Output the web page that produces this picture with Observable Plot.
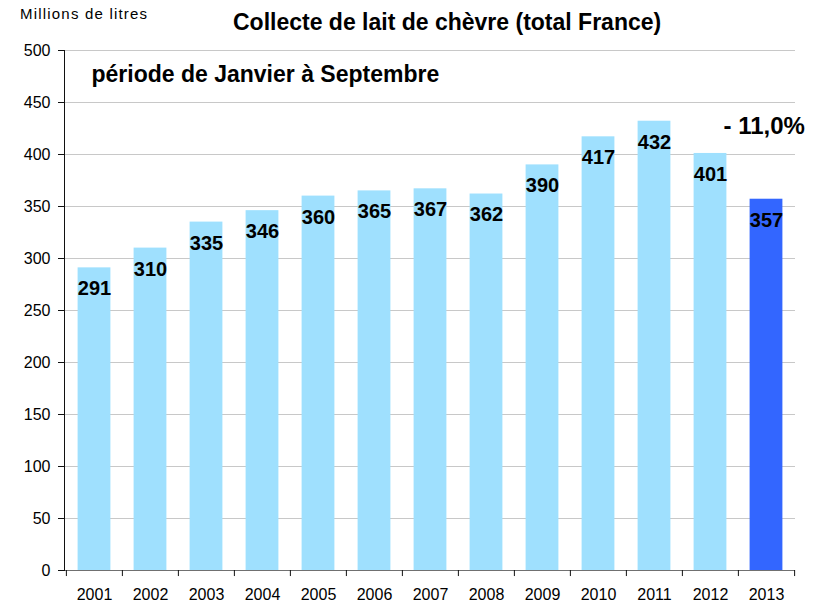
<!DOCTYPE html>
<html>
<head>
<meta charset="utf-8">
<script src="https://cdn.jsdelivr.net/npm/d3@7"></script>
<script src="https://cdn.jsdelivr.net/npm/@observablehq/plot@0.6"></script>
<style>
  html, body { margin: 0; padding: 0; background: #fff; }
  #wrap { position: relative; width: 828px; height: 606px; font-family: "Liberation Sans", Arial, sans-serif; }
  #unit { position: absolute; left: 20px; top: 5px; font-size: 15px; letter-spacing: 1.2px; color: #000; }
  #title { position: absolute; left: 233px; top: 9px; font-size: 23px; font-weight: bold; color: #000; white-space: nowrap; }
  #chart { position: absolute; left: 0; top: 0; }
  #chart svg g[aria-label*="tick label"] text { font-size: 16px; fill: #000; }
</style>
</head>
<body>
<div id="wrap">
  <div id="chart"></div>
  <div id="unit">Millions de litres</div>
  <div id="title">Collecte de lait de chèvre (total France)</div>
</div>
<script>
const years = ["2001","2002","2003","2004","2005","2006","2007","2008","2009","2010","2011","2012","2013"];
const values = [291, 310, 335, 346, 360, 365, 367, 362, 390, 417, 432, 401, 357];
const yTicks = [0, 50, 100, 150, 200, 250, 300, 350, 400, 450, 500];
const subtitle = "période de Janvier à Septembre";
const change = "- 11,0%";
const changeYear = "2013";
const changeLevel = 427;

const data = years.map((y, i) => ({year: y, value: values[i], highlight: y === "2013"}));

const W = 810, H = 606;
const mL = 64, mR = 15, mT = 50, mB = 36;
const step = (W - mL - mR) / years.length;

const chart = Plot.plot({
  width: W,
  height: H,
  marginLeft: mL,
  marginRight: mR,
  marginTop: mT,
  marginBottom: mB,
  style: {fontFamily: "'Liberation Sans', Arial, sans-serif", fontSize: "16px", background: "transparent", overflow: "hidden"},
  x: {domain: years, padding: 0, label: null},
  y: {domain: [0, 500], label: null},
  marks: [
    Plot.gridY(yTicks.filter(d => d > 0), {stroke: "#c8c8c8", strokeOpacity: 1}),
    Plot.barY(data, {x: "year", y: "value", fill: d => d.highlight ? "#3366ff" : "#9fe0fe", insetLeft: 11.6, insetRight: 11.6}),
    Plot.ruleY([0], {stroke: "#707070", strokeWidth: 1.2}),
    Plot.frame({anchor: "left", stroke: "#111"}),
    Plot.ruleX(years, {x: d => d, dx: -step / 2, y1: 0, y2: -5.8, stroke: "#111"}),
    Plot.ruleX([years[years.length - 1]], {x: d => d, dx: step / 2, y1: 0, y2: -5.8, stroke: "#111"}),
    Plot.axisY({ticks: yTicks, tickSize: 6, tickPadding: 8, fontSize: 16, fill: "#000", stroke: "#111"}),
    Plot.axisX({tickSize: 0, tickPadding: 18, fontSize: 16, fill: "#000"}),
    Plot.text(data, {x: "year", y: "value", text: d => String(d.value), dy: 21, fontSize: 20, fontWeight: "bold", fill: "#000"}),
    Plot.text([subtitle], {frameAnchor: "top-left", text: d => d, dx: 27, dy: 15, fontSize: 23, fontWeight: "bold", fill: "#000", textAnchor: "start"}),
    Plot.text([change], {x: () => changeYear, y: () => changeLevel, text: d => d, fontSize: 24, fontWeight: "bold", fill: "#000", textAnchor: "start", dx: -43})
  ]
});
document.getElementById("chart").appendChild(chart);
</script>
</body>
</html>
